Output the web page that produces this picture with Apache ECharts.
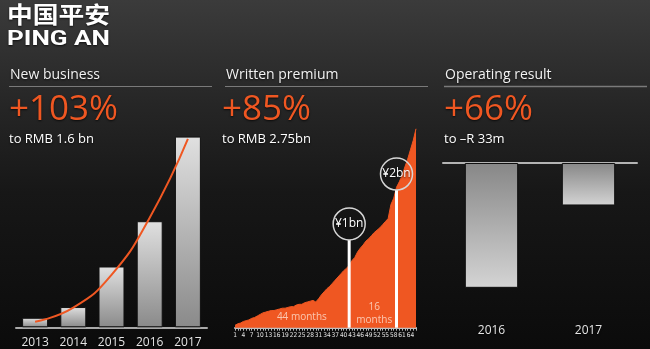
<!DOCTYPE html>
<html>
<head>
<meta charset="utf-8">
<script src="https://cdn.jsdelivr.net/npm/echarts@6/dist/echarts.min.js"></script>
<style>
  html, body { margin: 0; padding: 0; }
  body { background: linear-gradient(180deg, #3b3b3b 0%, #262626 30%, #171717 55%, #0b0b0b 100%); }
  #chart { width: 650px; height: 349px; }
</style>
</head>
<body>
<div id="chart"></div>
<script>
// Brand
const logoCn = '中国平安';
const logoEn = 'PING AN';

// Panel headings
const panelTitles = ['New business', 'Written premium', 'Operating result'];
const panelFigures = ['+103%', '+85%', '+66%'];
const panelNotes = ['to RMB 1.6 bn', 'to RMB 2.75bn', 'to –R 33m'];

// New business (RMB bn) with its growth curve
const nbYears = ['2013', '2014', '2015', '2016', '2017'];
const nbValues = [0.08, 0.17, 0.51, 0.89, 1.6];
const nbTrend = [0.047, 0.165, 0.44, 0.92, 1.58];

// Written premium by month (RMB bn)
const premiumMonths = [1, 2, 3, 4, 5, 6, 7, 8, 9, 10, 11, 12, 13, 14, 15, 16, 17, 18, 19, 20,
  21, 22, 23, 24, 25, 26, 27, 28, 29, 30, 31, 32, 33, 34, 35, 36, 37, 38, 39, 40,
  41, 42, 43, 44, 45, 46, 47, 48, 49, 50, 51, 52, 53, 54, 55, 56, 57, 58, 59, 60,
  61, 62, 63, 64, 65, 66];
const premiumValues = [0.23, 0.25, 0.26, 0.28, 0.29, 0.30, 0.32, 0.33, 0.35, 0.37,
  0.39, 0.40, 0.41, 0.42, 0.42, 0.43, 0.44, 0.45, 0.45, 0.46,
  0.47, 0.47, 0.49, 0.50, 0.50, 0.52, 0.53, 0.54, 0.55, 0.53,
  0.57, 0.62, 0.66, 0.70, 0.73, 0.77, 0.81, 0.85, 0.89, 0.93,
  0.96, 1.00, 1.06, 1.10, 1.17, 1.22, 1.26, 1.31, 1.34, 1.38,
  1.42, 1.45, 1.48, 1.52, 1.56, 1.60, 1.78, 1.86, 2.00, 2.07,
  2.15, 2.26, 2.36, 2.48, 2.60, 2.75];
const premiumFloor = 0.2;
const premiumCeil = 2.8;

// Milestones reached on the premium curve
const milestoneMonths = [42, 59];
const milestoneValues = [1.0, 2.0];
const milestoneBadgeLevels = [1.53, 2.17];
const milestoneLabels = ['¥1bn', '¥2bn'];

// Durations between milestones
const spanMonths = [25, 51];
const spanLevels = [0.33, 0.38];
const spanLabels = ['44 months', '16\nmonths'];

// Operating result (R m)
const opYears = ['2016', '2017'];
const opValues = [-97, -33];

const FONT = '"Open Sans", "Noto Sans", sans-serif';
const NARROW = '"Liberation Sans Narrow", "DejaVu Sans Condensed", sans-serif';
const ORANGE = '#ef5722';
const shadow = { textShadowColor: 'rgba(0,0,0,0.7)', textShadowBlur: 2, textShadowOffsetY: 1 };

const chart = echarts.init(document.getElementById('chart'), null, { renderer: 'canvas' });

const panelX = [10, 223, 445];
const ruleX = [[9, 212], [225, 428], [444, 647]];

const graphics = [
  { type: 'text', x: 7, y: 3, scaleX: 1.12, style: { text: logoCn, fill: '#fff', font: 'bold 23px "Noto Sans CJK SC"', ...shadow } },
  { type: 'text', x: 7, y: 29, scaleX: 1.24, style: { text: logoEn, fill: '#fff', font: 'bold 21px Roboto', ...shadow } }
];
panelTitles.forEach((t, i) => {
  graphics.push({ type: 'text', x: panelX[i] + (i === 1 ? 3 : 0), y: 75, style: { text: t, fill: '#f2f2f2', font: '14px ' + FONT, verticalAlign: 'middle', ...shadow } });
  graphics.push({ type: 'line', shape: { x1: ruleX[i][0], y1: 86.5, x2: ruleX[i][1], y2: 86.5 }, style: { stroke: '#7a7a7a', lineWidth: i === 2 ? 1.5 : 1 } });
  graphics.push({ type: 'text', x: panelX[i] - 1, y: 110, style: { text: panelFigures[i], fill: ORANGE, font: '35px ' + FONT, verticalAlign: 'middle', ...shadow } });
  graphics.push({ type: 'text', x: panelX[i] - 1, y: 139, style: { text: panelNotes[i], fill: '#ffffff', font: '13px ' + FONT, verticalAlign: 'middle', ...shadow } });
});

const barGradient = (top, bottom) => new echarts.graphic.LinearGradient(0, 0, 0, 1, [
  { offset: 0, color: top }, { offset: 1, color: bottom }
]);

const option = {
  backgroundColor: 'transparent',
  animation: false,
  graphic: graphics,
  grid: [
    { left: 16, top: 136.6, width: 191, height: 190.7, outerBoundsMode: 'none' },
    { left: 235, top: 124.9, width: 181, height: 202.8, outerBoundsMode: 'none' },
    { left: 443, top: 163, width: 194, height: 157, outerBoundsMode: 'none' }
  ],
  xAxis: [
    { gridIndex: 0, type: 'category', data: nbYears,
      axisLine: { lineStyle: { color: '#a9a9a9', width: 2 } }, axisTick: { show: false },
      axisLabel: { color: '#e4e4e4', fontSize: 12, fontFamily: FONT, margin: 9, ...shadow } },
    { gridIndex: 1, type: 'category', data: premiumMonths, boundaryGap: false,
      axisLine: { lineStyle: { color: '#bdbdbd', width: 2 } },
      axisTick: { show: true, interval: 0, length: 3, lineStyle: { color: '#bdbdbd' } },
      axisLabel: { interval: 2, hideOverlap: false, color: '#e6e6e6', fontSize: 6.5, fontFamily: NARROW, margin: 4 } },
    { gridIndex: 2, type: 'category', data: opYears, position: 'top',
      axisLine: { lineStyle: { color: '#b4b4b4', width: 2 } }, axisTick: { show: false }, axisLabel: { show: false } },
    { gridIndex: 2, type: 'category', data: opYears, position: 'bottom',
      axisLine: { show: false, onZero: false }, axisTick: { show: false },
      axisLabel: { color: '#e4e4e4', fontSize: 12, fontFamily: FONT, margin: 5, ...shadow } }
  ],
  yAxis: [
    { gridIndex: 0, type: 'value', min: 0, max: 1.6, show: false },
    { gridIndex: 1, type: 'value', min: premiumFloor, max: premiumCeil, show: false },
    { gridIndex: 2, type: 'value', min: -122, max: 0, show: false }
  ],
  series: [
    { type: 'bar', xAxisIndex: 0, yAxisIndex: 0, data: nbValues, barCategoryGap: '32%',
      itemStyle: { color: barGradient('#e0e0e0', '#8a8a8a'), borderColor: '#111', borderWidth: 1 } },
    { type: 'line', xAxisIndex: 0, yAxisIndex: 0, data: nbTrend, smooth: 0.5, showSymbol: false,
      lineStyle: { color: ORANGE, width: 2 }, z: 5 },
    { type: 'line', xAxisIndex: 1, yAxisIndex: 1, data: premiumValues, showSymbol: false,
      lineStyle: { color: ORANGE, width: 1 }, areaStyle: { color: ORANGE, opacity: 1, origin: 'start' } },
    { type: 'scatter', xAxisIndex: 1, yAxisIndex: 1, symbolSize: 0, z: 6,
      data: spanMonths.map((m, i) => ({ value: [m - 1, spanLevels[i]], label: { formatter: spanLabels[i] } })),
      label: { show: true, position: 'inside', color: 'rgba(255,232,220,0.95)', fontSize: 10, lineHeight: 13, fontFamily: FONT } },
    { type: 'custom', xAxisIndex: 1, yAxisIndex: 1, z: 7,
      data: milestoneMonths.map((m, i) => [m - 1, milestoneValues[i], milestoneBadgeLevels[i], i]),
      renderItem: (params, api) => {
        const idx = api.value(0);
        const base = api.coord([idx, premiumFloor]);
        const c = api.coord([idx, api.value(2)]);
        const r = 16;
        return {
          type: 'group',
          children: [
            { type: 'line', shape: { x1: base[0], y1: base[1], x2: c[0], y2: c[1] + r },
              style: { stroke: '#ffffff', lineWidth: 3 } },
            { type: 'circle', shape: { cx: c[0], cy: c[1], r: r },
              style: { fill: 'rgba(0,0,0,0)', stroke: '#d6d6d6', lineWidth: 1.5 } },
            { type: 'text', x: c[0], y: c[1],
              style: { text: milestoneLabels[api.value(3)], fill: '#ffffff', font: '12px ' + FONT,
                align: 'center', verticalAlign: 'middle', ...shadow } }
          ]
        };
      } },
    { type: 'bar', xAxisIndex: 2, yAxisIndex: 2, data: opValues, barCategoryGap: '45%',
      itemStyle: { color: barGradient('#878787', '#d4d4d4'), borderColor: '#111', borderWidth: 1 } }
  ]
};
chart.setOption(option);
</script>
</body>
</html>
